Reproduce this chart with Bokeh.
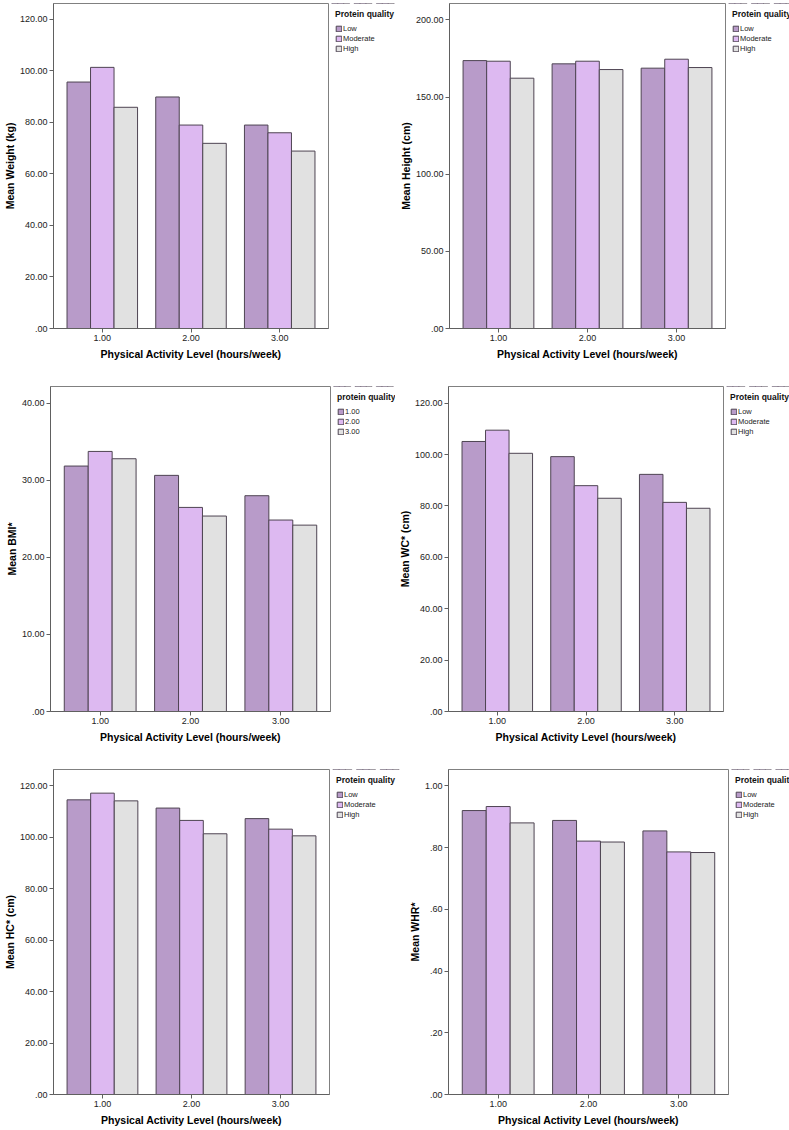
from bokeh.plotting import figure
from bokeh.models import (FactorRange, Range1d, FixedTicker, CustomJSTickFormatter,
                          Legend, LegendItem, ColumnDataSource)
from bokeh.transform import dodge
from bokeh.layouts import column, row
from bokeh.embed import file_html
from bokeh.resources import INLINE

# ---------------- data ----------------
pa_labels = ["1.00", "2.00", "3.00"]
quality_labels = ["Low", "Moderate", "High"]
quality_labels_num = ["1.00", "2.00", "3.00"]

weight_low = [95.7, 89.9, 79.0]
weight_mod = [101.4, 79.0, 76.0]
weight_high = [85.9, 71.9, 68.9]

height_low = [173.6, 171.5, 168.7]
height_mod = [173.2, 173.2, 174.5]
height_high = [162.2, 167.8, 169.1]

bmi_low = [31.87, 30.66, 28.02]
bmi_mod = [33.77, 26.50, 24.86]
bmi_high = [32.82, 25.38, 24.20]

wc_low = [105.1, 99.2, 92.3]
wc_mod = [109.5, 87.9, 81.4]
wc_high = [100.5, 83.0, 79.1]

hc_low = [114.6, 111.4, 107.3]
hc_mod = [117.2, 106.6, 103.2]
hc_high = [114.2, 101.4, 100.6]

whr_low = [0.920, 0.888, 0.854]
whr_mod = [0.933, 0.821, 0.786]
whr_high = [0.880, 0.818, 0.784]

ticks_weight = [0, 20, 40, 60, 80, 100, 120]
ticks_height = [0, 50, 100, 150, 200]
ticks_bmi = [0, 10, 20, 30, 40]
ticks_wc = [0, 20, 40, 60, 80, 100, 120]
ticks_hc = [0, 20, 40, 60, 80, 100, 120]
ticks_whr = [0, 0.2, 0.4, 0.6, 0.8, 1.0]

# ---------------- style ----------------
COLORS = ["#b89bc9", "#ddb9f1", "#e1e1e1"]
EDGE = "#4e4452"
FONT = "Liberation Sans"
XLABEL = "Physical Activity Level (hours/week)"
BW = 0.265
KEYS = ["low", "mod", "high"]
OFFSETS = [-BW, 0.0, BW]


def kill_title(fig):
    fig.title.text = ""
    fig.title.visible = False
    fig.title.standoff = 0
    fig.title_location = None


def make_plot(ylabel, src, ymax, yticks, fw, fh, bl, bt, bb):
    p = figure(x_range=FactorRange(*pa_labels, range_padding=0.0333),
               y_range=Range1d(0, ymax),
               frame_width=fw, frame_height=fh,
               min_border_left=bl, min_border_right=1,
               min_border_top=bt, min_border_bottom=bb,
               output_backend="svg", toolbar_location=None)
    kill_title(p)
    p.background_fill_color = "white"
    p.border_fill_color = "white"
    p.outline_line_color = "#808080"
    p.outline_line_width = 1
    p.xgrid.visible = False
    p.ygrid.visible = False

    for key, off, col in zip(KEYS, OFFSETS, COLORS):
        p.vbar(x=dodge("pa", off, range=p.x_range), top=key, width=BW, source=src,
               fill_color=col, line_color=EDGE, line_width=1)

    for ax in (p.xaxis[0], p.yaxis[0]):
        ax.axis_line_color = "#606060"
        ax.major_tick_line_color = "#606060"
        ax.major_tick_out = 4
        ax.major_tick_in = 0
        ax.minor_tick_line_color = None
        ax.major_label_text_font = FONT
        ax.major_label_text_font_size = "9px"
        ax.major_label_text_color = "#222222"
        ax.major_label_standoff = 2
        ax.axis_label_text_font = FONT
        ax.axis_label_text_font_size = "10.5px"
        ax.axis_label_text_font_style = "bold"
        ax.axis_label_text_color = "#000000"
    p.xaxis.axis_label = XLABEL
    p.xaxis.axis_label_standoff = 4
    p.yaxis.axis_label = ylabel
    p.yaxis.axis_label_standoff = 1
    p.yaxis.ticker = FixedTicker(ticks=yticks, minor_ticks=[])
    p.yaxis.formatter = CustomJSTickFormatter(
        code=r"return tick.toFixed(2).replace(/^0\./, '.');")
    return p


def make_legend(title, labels, src, width, fh, bt, bb):
    # the legend panel re-uses the series (drawn outside its visible y range);
    # its borders equal the plot's so the row keeps both frames aligned
    lf = figure(width=width, height=bt + fh + bb,
                x_range=FactorRange(*pa_labels), y_range=Range1d(-2, -1),
                x_axis_type=None, y_axis_type=None,
                min_border_left=0, min_border_right=0,
                min_border_top=bt, min_border_bottom=bb,
                output_backend="svg", toolbar_location=None)
    kill_title(lf)
    lf.outline_line_color = None
    lf.background_fill_color = "white"
    lf.border_fill_color = "white"
    for g in lf.grid:
        g.visible = False
    rends = []
    for key, off, col in zip(KEYS, OFFSETS, COLORS):
        rends.append(lf.vbar(x=dodge("pa", off, range=lf.x_range), top=key, width=BW,
                             source=src, fill_color=col, line_color=EDGE, line_width=1))
    legend = Legend(items=[LegendItem(label=lbl, renderers=[r])
                           for lbl, r in zip(labels, rends)],
                    location="top_left")
    legend.title = title
    legend.title_text_font = FONT
    legend.title_text_font_size = "8.5px"
    legend.title_text_font_style = "bold"
    legend.title_text_color = "#111111"
    legend.title_standoff = 5
    legend.label_text_font = FONT
    legend.label_text_font_size = "7.5px"
    legend.label_text_color = "#222222"
    legend.glyph_width = 7
    legend.glyph_height = 7
    legend.label_height = 7
    legend.label_standoff = 1
    legend.spacing = 1
    legend.padding = 0
    legend.margin = 6
    legend.border_line_color = None
    legend.background_fill_alpha = 0
    lf.add_layout(legend, "center")
    return lf


def panel(ylabel, lows, mods, highs, ymax, yticks, ltitle, llabels,
          fw, fh, bl, bt, bb, lw):
    src = ColumnDataSource(dict(pa=pa_labels, low=lows, mod=mods, high=highs))
    p = make_plot(ylabel, src, ymax, yticks, fw, fh, bl, bt, bb)
    lf = make_legend(ltitle, llabels, src, lw, fh, bt, bb)
    return p, lf


p1, l1 = panel("Mean Weight (kg)", weight_low, weight_mod, weight_high, 126.2, ticks_weight,
               "Protein quality", quality_labels, 275, 325, 52, 3, 44, 67)
p2, l2 = panel("Mean Height (cm)", height_low, height_mod, height_high, 210.6, ticks_height,
               "Protein quality", quality_labels, 276, 325, 49, 3, 44, 68)
p3, l3 = panel("Mean BMI*", bmi_low, bmi_mod, bmi_high, 42.2, ticks_bmi,
               "protein quality", quality_labels_num, 280, 325, 50, 14, 39, 64)
p4, l4 = panel("Mean WC* (cm)", wc_low, wc_mod, wc_high, 126.5, ticks_wc,
               "Protein quality", quality_labels, 275, 325, 50, 14, 39, 68)
p5, l5 = panel("Mean HC* (cm)", hc_low, hc_mod, hc_high, 126.4, ticks_hc,
               "Protein quality", quality_labels, 276, 325, 47, 19, 36, 71)
p6, l6 = panel("Mean WHR*", whr_low, whr_mod, whr_high, 1.053, ticks_whr,
               "Protein quality", quality_labels, 280, 325, 47, 19, 36, 66)

layout = column(row(p1, l1, p2, l2), row(p3, l3, p4, l4), row(p5, l5, p6, l6))

open("out.html", "w").write(file_html(layout, INLINE))
